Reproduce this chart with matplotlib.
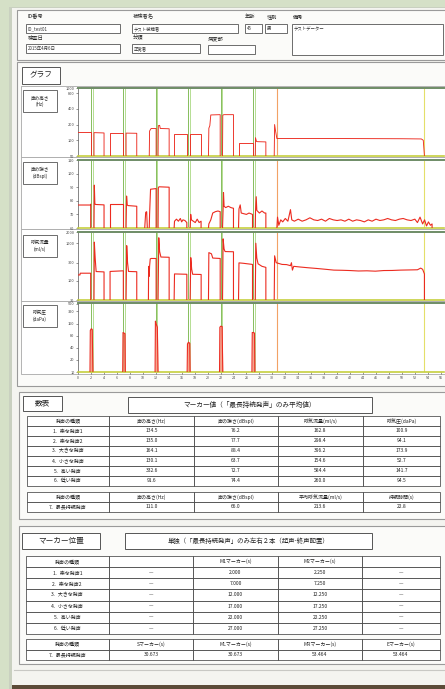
import matplotlib
matplotlib.use("Agg")
import matplotlib.pyplot as plt
from matplotlib.patches import Rectangle
from matplotlib.ticker import FixedLocator, FixedFormatter, NullLocator

plt.rcParams['font.family'] = ['Noto Sans CJK JP', 'DejaVu Sans']

W, H = 445, 689

# ---- header fields ----
patient_id = "ID_test01"
patient_name = "テスト被検者"
age = "45"
sex = "男"
remarks = "テストデーター"
exam_date = "2015年4月6日"
category = "正常者"

# ---- markers (s) ----
m1_marks = [2.0, 7.0, 12.0, 17.0, 22.0, 27.0]
m2_marks = [2.25, 7.25, 12.25, 17.25, 22.25, 27.25]
s_mark = 30.673
e_mark = 53.464
time_ticks = list(range(0, 57, 2))

# ---- traces: one (time, value) pair per phonation ----
pitch_hz = [
    ([0.0, 1.96, 1.96], [142, 142, 50]),
    ([2.47, 2.47, 4.02, 4.02], [50, 140, 138, 50]),
    ([4.95, 4.95, 7.0, 7.0], [50, 138, 138, 50]),
    ([7.42, 7.42, 9.07, 9.07], [50, 137, 136, 50]),
    ([11.0, 11.05, 11.2, 11.3, 12.06, 12.06], [50, 150, 162, 168, 168, 50]),
    ([12.36, 12.4, 12.6, 12.7, 14.07, 14.07], [50, 190, 193, 168, 166, 50]),
    ([14.84, 14.84, 16.8, 16.8], [50, 134, 134, 50]),
    ([17.31, 17.31, 19.0, 19.0], [50, 134, 134, 50]),
    ([20.14, 20.2, 20.35, 20.5, 21.95, 21.95], [50, 170, 190, 305, 309, 50]),
    ([22.31, 22.35, 22.5, 24.0, 24.0], [50, 300, 309, 309, 50]),
    ([24.78, 24.78, 26.94, 26.94], [50, 90, 90, 50]),
    ([27.36, 27.4, 27.55, 27.7, 29.0, 29.0], [50, 112, 95, 94, 93, 50]),
    ([30.29, 30.35, 30.5, 30.7, 40.0, 50.0, 53.0, 53.3, 53.48],
     [50, 200, 150, 108, 108, 107, 106, 100, 50]),
]

intensity_db = [
    ([0.0, 1.9, 1.96, 1.96], [76.9, 76.9, 77.5, 60]),
    ([2.47, 2.52, 2.6, 2.7, 4.02, 4.02], [60, 91.5, 78, 77.3, 77, 60]),
    ([4.95, 4.95, 7.0, 7.0], [60, 77.4, 77.4, 60]),
    ([7.42, 7.5, 7.6, 7.7, 9.07, 9.07], [60, 83.5, 77, 76.5, 76, 60]),
    ([10.3, 10.45, 10.6, 10.7], [60, 71.5, 72, 60]),
    ([11.0, 11.05, 11.2, 12.06, 12.06], [60, 70, 88.5, 89, 60]),
    ([12.36, 12.4, 12.5, 14.07, 14.07], [60, 89.5, 90.3, 90, 60]),
    ([14.84, 14.9, 15.2, 15.5, 15.8, 16.0, 16.2, 16.5, 16.8, 16.8],
     [60, 65, 66.5, 65, 67, 64.5, 66, 65.5, 64, 60]),
    ([17.31, 17.4, 17.5, 17.8, 18.1, 18.4, 18.7, 19.0, 19.0],
     [60, 70, 66, 65, 64, 66.5, 64, 65, 60]),
    ([20.14, 20.2, 20.5, 20.8, 21.2, 21.6, 21.95, 21.95],
     [60, 63, 66, 71, 72, 72.5, 72, 60]),
    ([22.31, 22.4, 22.46, 22.55, 22.8, 23.2, 23.6, 24.0, 24.0],
     [60, 74, 86, 76, 75, 76, 75, 74.5, 60]),
    ([24.78, 24.85, 25.04, 25.2, 25.6, 26.0, 26.4, 26.94, 26.94],
     [60, 74, 77, 71, 70.5, 70, 71, 70, 60]),
    ([27.36, 27.4, 27.51, 27.6, 28.0, 28.4, 28.8, 29.0, 29.0],
     [60, 72, 83, 73, 71, 72.5, 71, 71, 60]),
    ([30.7, 30.8, 31.0, 31.3, 31.6, 32.0, 32.4, 32.8, 33.0, 33.4, 34.0, 34.6,
      35.2, 35.8, 36.4, 37.0, 37.6, 38.2, 38.8, 39.4, 40.0, 40.6, 41.2, 41.8,
      42.4, 43.0, 43.6, 44.2, 44.8, 45.4, 46.0, 46.6, 47.2, 47.8, 48.4, 49.0,
      49.6, 50.2, 50.8, 51.4, 52.0, 52.4, 52.8, 53.2, 53.5, 53.8, 54.1, 54.4,
      54.66, 54.66],
     [60, 68, 62, 66, 64.5, 67, 65, 73.5, 66, 65, 66.5, 65, 66, 67.5, 66, 65.5,
      66.5, 65, 67, 66, 65.5, 66, 65, 66.5, 65, 66, 65.5, 64.5, 66, 65, 66.5,
      65.5, 66, 67, 66, 65.5, 66.5, 67, 66, 65.5, 66.5, 64, 68, 63, 66, 61.5,
      64.5, 62, 63, 60]),
]

flow_mls = [
    ([0.0, 0.3, 0.35, 1.96, 1.96], [141, 141, 157, 157, 30]),
    ([2.47, 2.52, 2.65, 2.8, 4.02, 4.02], [30, 1070, 400, 174, 170, 30]),
    ([4.95, 4.95, 7.0, 7.0], [30, 175, 182, 30]),
    ([7.42, 7.52, 7.65, 7.8, 9.07, 9.07], [30, 860, 300, 175, 172, 30]),
    ([10.87, 10.9, 11.0, 11.05, 11.15, 11.3, 12.06, 12.06],
     [30, 240, 130, 240, 380, 390, 390, 30]),
    ([12.36, 12.47, 12.6, 12.8, 14.07, 14.07], [30, 1400, 600, 426, 420, 30]),
    ([14.84, 14.9, 16.8, 16.8], [30, 150, 147, 30]),
    ([17.31, 17.41, 17.55, 17.7, 19.01, 19.01], [30, 410, 200, 147, 145, 30]),
    ([20.14, 20.2, 20.6, 20.8, 21.95, 21.95], [30, 560, 520, 400, 390, 30]),
    ([22.31, 22.4, 22.55, 22.7, 24.0, 24.0], [30, 1310, 700, 598, 590, 30]),
    ([24.78, 24.85, 25.5, 26.2, 26.94, 26.94], [30, 297, 290, 280, 270, 30]),
    ([27.36, 27.45, 27.6, 27.8, 28.4, 29.0, 29.0], [30, 1000, 400, 280, 240, 225, 30]),
    ([30.29, 30.35, 30.6, 31.5, 32.2, 32.8, 32.95, 33.1, 33.3, 34.3, 35.5, 36.9,
      38.2, 39.5, 40.8, 42.0, 43.3, 44.6, 45.9, 47.2, 48.5, 49.8, 51.1, 52.4,
      52.9, 53.2, 53.48, 53.48],
     [30, 460, 300, 270, 267, 250, 300, 190, 240, 230, 220, 210, 200, 190, 188,
      185, 180, 182, 178, 185, 186, 190, 192, 194, 215, 200, 150, 30]),
]

pressure_dapa = [
    ([1.85, 1.9, 2.05, 2.2, 2.3], [10, 108, 119, 115, 10]),
    ([6.9, 6.95, 7.1, 7.25, 7.3], [10, 96, 93, 90, 10]),
    ([11.9, 11.95, 12.05, 12.25, 12.35], [10, 184, 160, 130, 10]),
    ([16.85, 16.9, 17.05, 17.25, 17.3], [10, 50, 55, 52, 10]),
    ([21.85, 21.9, 22.05, 22.25, 22.35], [10, 130, 138, 135, 10]),
    ([26.85, 26.9, 27.05, 27.25, 27.3], [10, 96, 96, 93, 10]),
]

# ---- tables ----
voice_types = ["1．楽な発声1", "2．楽な発声2", "3．大きな発声",
               "4．小さな発声", "5．高い発声", "6．低い発声"]
table1_cols = ["発声の種類", "声の高さ(Hz)", "声の強さ(dBspl)", "呼気流量(ml/s)", "呼気圧(daPa)"]
mean_pitch = ["134.5", "135.0", "164.1", "130.1", "332.6", "91.6"]
mean_intensity = ["76.2", "77.7", "88.4", "63.7", "72.7", "74.4"]
mean_flow = ["162.8", "298.4", "396.2", "154.6", "584.4", "260.0"]
mean_pressure = ["100.9", "94.1", "173.9", "52.7", "141.7", "94.5"]
mpt_cols = ["発声の種類", "声の高さ(Hz)", "声の強さ(dBspl)", "平均呼気流量(ml/s)", "持続時間(s)"]
mpt_values = ["7．最長持続発声", "111.0", "66.0", "213.6", "22.8"]
marker_cols = ["発声の種類", "", "M1マーカー(s)", "M2マーカー(s)", ""]
mpt_marker_cols = ["発声の種類", "Sマーカー(s)", "MLマーカー(s)", "MRマーカー(s)", "Eマーカー(s)"]
mpt_markers = ["7．最長持続発声", "30.673", "30.673", "53.464", "53.464"]

RED = "#ec2b20"
GRID = "#9a9a9a"

fig = plt.figure(figsize=(W / 100, H / 100), dpi=100)
fig.patch.set_facecolor("#d5e0c7")

bg = fig.add_axes([0, 0, 1, 1])
bg.set_xlim(0, W); bg.set_ylim(H, 0); bg.axis("off")


def rect(x0, y0, x1, y1, fc="none", ec=GRID, lw=0.6, z=1):
    bg.add_patch(Rectangle((x0, y0), x1 - x0, y1 - y0, fc=fc, ec=ec, lw=lw, zorder=z))


def frac(x0, y0, x1, y1):
    return [x0 / W, 1 - y1 / H, (x1 - x0) / W, (y1 - y0) / H]


# paper + shadow
rect(9, 7, W + 2, H, fc="#c9d0c0", ec="none", z=0)
rect(12, 8, W + 2, 685, fc="#f4f4f0", ec="none", z=0)
rect(12, 685, W + 2, H + 2, fc="#5c4b38", ec="none", z=0)
bg.plot([14, W], [670, 670], color="#c8c8c4", lw=0.8)

# header
rect(17, 10, W + 2, 60, fc="#fbfbf9", lw=0.8)
fields = [("ID番号", 28, 17, 26, 24, 120, 33, patient_id),
          ("被検者名", 133, 17, 132, 24, 238, 33, patient_name),
          ("年齢", 245, 17, 245, 24, 262, 33, age),
          ("性別", 267, 17, 265, 24, 287, 33, sex),
          ("備考", 293, 17, 292, 24, 443, 55, remarks),
          ("検査日", 28, 38, 26, 44, 120, 53, exam_date),
          ("分類", 133, 38, 132, 44, 200, 53, category),
          ("病変部", 208, 39, 208, 45, 255, 54, "")]
for lab, lx, ly, x0, y0, x1, y1, val in fields:
    bg.text(lx, ly, lab, fontsize=3.8, va="center", ha="left", color="#222")
    rect(x0, y0, x1, y1, fc="white", ec="#555", lw=0.6)
    bg.text(x0 + 2, y0 + 4.5, val, fontsize=3.2, va="center", ha="left", color="#333")

# graph section
rect(17, 62, W + 2, 386, fc="#fbfbf9", lw=0.8)
rect(22, 67, 60, 84, fc="white", ec="#555", lw=0.7)
bg.text(41, 75.5, "グラフ", fontsize=5.5, ha="center", va="center", color="#222")

panel_rows = [(86, 157), (157, 229), (229, 301), (301, 374)]
for y0, y1 in panel_rows:
    rect(21, y0, W + 2, y1, fc="white", ec="#a8a8a8", lw=0.6)

panels = [
    ("声の高さ\n(Hz)", (88, 156), (90, 112), pitch_hz, "log", (50, 1000),
     [50, 100, 200, 400, 800, 1000]),
    ("声の強さ\n(dBspl)", (160, 228), (162, 184), intensity_db, "linear", (60, 110),
     [60, 70, 80, 90, 100, 110]),
    ("呼気流量\n(ml/s)", (232, 300), (235, 257), flow_mls, "log", (30, 2000),
     [30, 100, 300, 1000, 2000]),
    ("呼気圧\n(daPa)", (303, 372), (305, 327), pressure_dapa, "log", (10, 520),
     [10, 20, 40, 80, 160, 320, 500]),
]

for i, (lab, (ty, by), (ly0, ly1), segs, scale, ylim, yt) in enumerate(panels):
    rect(23, ly0, 57, ly1, fc="white", ec="#555", lw=0.6)
    bg.text(40, (ly0 + ly1) / 2, lab, fontsize=3.3, ha="center", va="center",
            linespacing=1.4, color="#222")
    ax = fig.add_axes(frac(78, ty, 444, by))
    ax.set_yscale(scale)
    ax.set_xlim(0, 56.5)
    ax.set_ylim(*ylim)
    for m in m1_marks:
        ax.axvline(m, color="#86bd5c", lw=0.7, zorder=1)
    for m in m2_marks:
        ax.axvline(m, color="#a9d882", lw=0.6, zorder=1)
    ax.axvline(s_mark, color="#f2a266", lw=0.8, zorder=1)
    ax.axvline(e_mark, color="#e4df6a", lw=0.8, zorder=1)
    for t, v in segs:
        if i == 3:
            ax.fill_between(t, ylim[0], v, color="#f5a58c", lw=0, zorder=2)
        ax.plot(t, v, color=RED, lw=0.8 if i else 0.65, zorder=3)
    ax.yaxis.set_major_locator(FixedLocator(yt))
    ax.yaxis.set_major_formatter(FixedFormatter([str(v) for v in yt]))
    ax.yaxis.set_minor_locator(NullLocator())
    ax.tick_params(axis="y", labelsize=2.8, length=1.5, width=0.4, pad=1,
                   colors="#444")
    ax.xaxis.set_major_locator(FixedLocator(time_ticks))
    ax.xaxis.set_minor_locator(NullLocator())
    if i == 3:
        ax.xaxis.set_major_formatter(FixedFormatter([str(v) for v in time_ticks]))
        ax.tick_params(axis="x", labelsize=2.6, length=1.5, width=0.4, pad=1.5,
                       colors="#444")
    else:
        ax.tick_params(axis="x", labelbottom=False, length=0)
    ax.spines["top"].set_color("#6e8c66"); ax.spines["top"].set_linewidth(1.4)
    ax.spines["bottom"].set_color("#c6cf3e"); ax.spines["bottom"].set_linewidth(1.2)
    ax.spines["left"].set_color("#555"); ax.spines["left"].set_linewidth(0.5)
    ax.spines["right"].set_visible(False)


def draw_table(rows, x0, y0, x1, y1, widths):
    tb = bg.table(cellText=rows, cellLoc="center", colWidths=widths,
                  bbox=frac(x0, y0, x1, y1))
    tb.set_zorder(5)
    tb.auto_set_font_size(False)
    tb.set_fontsize(3.6)
    for cell in tb.get_celld().values():
        cell.set_linewidth(0.5)
        cell.set_edgecolor("#333")
        cell.set_facecolor("white")
        cell.get_text().set_color("#222")
    return tb


# 数表 section
rect(19, 392, W + 2, 519, fc="#fbfbf9", lw=0.8)
rect(23, 396, 62, 411, fc="white", ec="#555", lw=0.7)
bg.text(42.5, 403.5, "数表", fontsize=5.5, ha="center", va="center", color="#222")
rect(128, 397, 372, 413, fc="white", ec="#555", lw=0.7)
bg.text(250, 405, "マーカー値（「最長持続発声」のみ平均値）", fontsize=4.8,
        ha="center", va="center", color="#222")
rows1 = [table1_cols] + [list(r) for r in zip(voice_types, mean_pitch, mean_intensity,
                                               mean_flow, mean_pressure)]
draw_table(rows1, 27, 416, 440, 486, [82, 85, 83, 85, 77])
draw_table([mpt_cols, mpt_values], 27, 492, 440, 512, [82, 85, 83, 85, 77])

# マーカー位置 section
rect(19, 526, W + 2, 664, fc="#fbfbf9", lw=0.8)
rect(22, 533, 100, 549, fc="white", ec="#555", lw=0.7)
bg.text(61, 541, "マーカー位置", fontsize=5.5, ha="center", va="center", color="#222")
rect(125, 533, 372, 549, fc="white", ec="#555", lw=0.7)
bg.text(248, 541, "単独（「最長持続発声」のみ左右２本（起声-終声配置）", fontsize=4.6,
        ha="center", va="center", color="#222")
rows3 = [marker_cols] + [[vt, "—", f"{a:.3f}", f"{b:.3f}", "—"]
                         for vt, a, b in zip(voice_types, m1_marks, m2_marks)]
draw_table(rows3, 26, 556, 440, 634, [83, 84, 85, 84, 78])
draw_table([mpt_marker_cols, mpt_markers], 26, 639, 440, 660, [83, 84, 85, 84, 78])

fig.savefig("out.png", dpi=100, facecolor=fig.get_facecolor())
